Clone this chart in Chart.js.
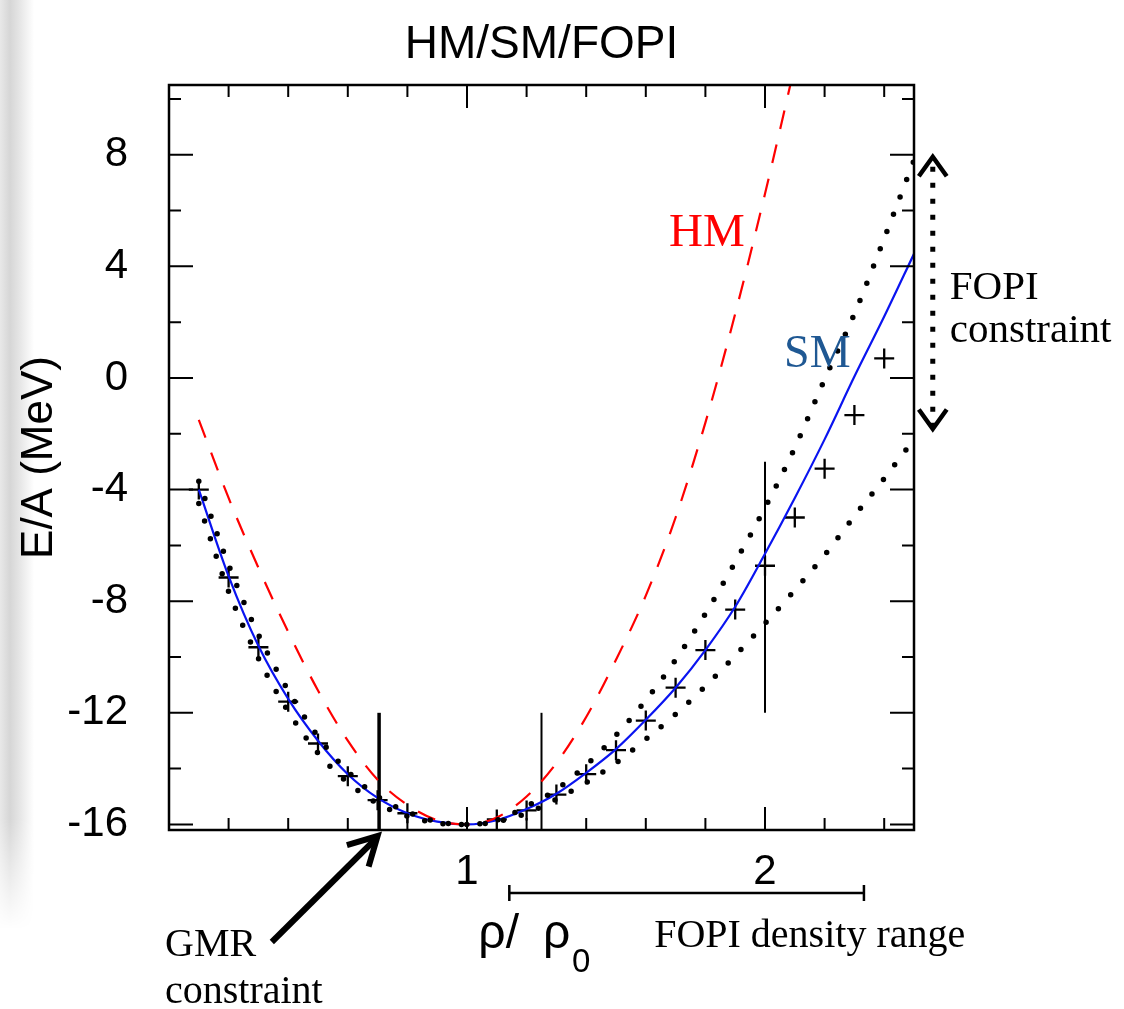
<!DOCTYPE html>
<html>
<head>
<meta charset="utf-8">
<script src="https://cdn.jsdelivr.net/npm/chart.js@4.4.1/dist/chart.umd.min.js"></script>
<style>
  html, body { margin: 0; padding: 0; background: #fff; }
  #wrap { position: relative; width: 1124px; height: 1009px; }
  #edge { position: absolute; left: 0; top: 0; width: 34px; height: 930px;
    background: linear-gradient(to right, #e8e8e8 0px, #d6d6d6 10px, #e6e6e6 20px, #ffffff 34px);
    -webkit-mask-image: linear-gradient(to bottom, #000 88%, transparent 100%);
    mask-image: linear-gradient(to bottom, #000 88%, transparent 100%); }
  canvas { position: absolute; left: 0; top: 0; }
</style>
</head>
<body>
<div id="wrap"><div id="edge"></div><canvas id="chart" width="1124" height="1009"></canvas></div>
<script>
// density grid rho/rho0 for the model curves
const rho = [0.1, 0.2, 0.3, 0.4, 0.5, 0.6, 0.7, 0.8, 0.9, 1.0, 1.1, 1.2, 1.3,
             1.4, 1.5, 1.6, 1.7, 1.8, 1.9, 2.0, 2.1, 2.2, 2.3, 2.4, 2.5];

// E/A in MeV
const smCurve = [-4.0, -7.1, -9.6, -11.5, -13.0, -14.2, -15.05, -15.6, -15.9, -16.0,
                 -15.85, -15.45, -14.9, -14.15, -13.3, -12.25, -11.1, -9.75, -8.2,
                 -6.3, -4.3, -2.2, 0.05, 2.2, 4.45];
const hmCurve = [-1.5, -4.3, -6.8, -9.1, -11.2, -13.0, -14.4, -15.3, -15.85, -16.0,
                 -15.75, -15.0, -13.8, -12.15, -10.1, -7.8, -5.0, -1.6, 2.3, 6.6, 11.2];
const boundStiff = [-4.5, -7.65, -10.05, -11.95, -13.45, -14.5, -15.25, -15.7, -15.95, -16.0,
                    -15.85, -15.35, -14.75, -13.87, -12.8, -11.55, -10.1, -8.45, -6.6,
                    -4.65, -2.5, -0.05, 2.3, 5.0, 7.8];
const boundSoft = [-3.7, -6.7, -9.2, -11.2, -12.85, -14.1, -15.0, -15.55, -15.9, -16.0,
                   -15.9, -15.6, -15.1, -14.5, -13.8, -12.95, -12.05, -11.05, -9.95,
                   -8.8, -7.6, -6.35, -4.95, -3.6, -2.2];

// FOPI points (crosses)
const fopiRho = [0.1, 0.2, 0.3, 0.4, 0.5, 0.6, 0.7, 0.8, 1.1, 1.2, 1.3, 1.4, 1.5,
                 1.6, 1.7, 1.8, 1.9, 2.0, 2.1, 2.2, 2.3, 2.4];
const fopiEA = [-4.0, -7.15, -9.65, -11.6, -13.1, -14.27, -15.13, -15.6, -15.82, -15.5,
                -14.93, -14.2, -13.34, -12.28, -11.1, -9.75, -8.3, -6.73, -5.0, -3.25,
                -1.33, 0.7];

// vertical error bars
const errRho = [0.705, 1.25, 2.0];
const errLow = [-16.2, -16.2, -12.0];
const errHigh = [-12.0, -12.0, -3.0];
const errWidths = [3.5, 2, 2];

// axis ticks
const xMajorTicks = [1, 2];
const xMinorTicks = [0.2, 0.4, 0.6, 0.8, 1.2, 1.4, 1.6, 1.8, 2.2, 2.4];
const yMajorTicks = [-16, -12, -8, -4, 0, 4, 8];
const yMinorTicks = [-14, -10, -6, -2, 2, 6, 10];

const toPts = (xs, ys) => ys.map((y, i) => ({ x: xs[i], y: y }));

const SANS = '"Liberation Sans", Arial, Helvetica, sans-serif';
const SERIF = '"Liberation Serif", "Times New Roman", serif';

const errSets = errRho.map((x, i) => ({
    label: 'err' + i,
    data: [{ x: x, y: errLow[i] }, { x: x, y: errHigh[i] }],
    borderColor: '#000',
    borderWidth: errWidths[i],
    pointRadius: 0
}));

function arrowHead(ctx, tx, ty, ang, len, spread) {
    ctx.beginPath();
    ctx.moveTo(tx + len * Math.cos(ang + spread), ty + len * Math.sin(ang + spread));
    ctx.lineTo(tx, ty);
    ctx.lineTo(tx + len * Math.cos(ang - spread), ty + len * Math.sin(ang - spread));
    ctx.stroke();
}

const framePlugin = {
    id: 'frame',
    afterDraw(chart) {
        const ctx = chart.ctx;
        const a = chart.chartArea;
        const xs = chart.scales.x, ys = chart.scales.y;
        const px = v => xs.getPixelForValue(v);
        const py = v => ys.getPixelForValue(v);
        ctx.save();
        ctx.strokeStyle = '#000';
        ctx.lineCap = 'butt';

        // ticks on all four sides, pointing inward
        ctx.lineWidth = 2;
        ctx.beginPath();
        const xt = (v, len) => {
            const p = px(v);
            ctx.moveTo(p, a.bottom); ctx.lineTo(p, a.bottom - len);
            ctx.moveTo(p, a.top); ctx.lineTo(p, a.top + len);
        };
        const yt = (v, len) => {
            const p = py(v);
            ctx.moveTo(a.left, p); ctx.lineTo(a.left + len, p);
            ctx.moveTo(a.right, p); ctx.lineTo(a.right - len, p);
        };
        xMajorTicks.forEach(v => xt(v, 23));
        xMinorTicks.forEach(v => xt(v, 12));
        yMajorTicks.forEach(v => yt(v, 24));
        yMinorTicks.forEach(v => yt(v, 12));
        ctx.stroke();

        // frame
        ctx.lineWidth = 2.5;
        ctx.strokeRect(a.left, a.top, a.right - a.left, a.bottom - a.top);

        // title
        ctx.fillStyle = '#000';
        ctx.textAlign = 'center';
        ctx.textBaseline = 'alphabetic';
        ctx.font = '46px ' + SANS;
        ctx.fillText('HM/SM/FOPI', (a.left + a.right) / 2, 58);

        // curve labels
        ctx.textAlign = 'left';
        ctx.font = '47px ' + SERIF;
        ctx.fillStyle = '#ff0000';
        ctx.fillText('HM', px(1.678), py(4.73));
        ctx.font = '46px ' + SERIF;
        ctx.fillStyle = '#1f5893';
        ctx.fillText('SM', px(2.064), py(0.39));

        // FOPI constraint double arrow
        ctx.fillStyle = '#000';
        const fx = px(2.563);
        const fTop = py(8.0), fBot = py(-1.9);
        ctx.lineWidth = 5;
        ctx.setLineDash([5, 11]);
        ctx.beginPath();
        ctx.moveTo(fx, fTop + 12); ctx.lineTo(fx, fBot - 6);
        ctx.stroke();
        ctx.setLineDash([]);
        ctx.lineWidth = 4.5;
        ctx.lineJoin = 'miter';
        arrowHead(ctx, fx, fTop + 2, Math.PI / 2, 24, 0.62);
        arrowHead(ctx, fx, fBot - 2, -Math.PI / 2, 24, 0.62);
        ctx.font = '41px ' + SERIF;
        ctx.fillText('FOPI', px(2.62), py(2.83));
        ctx.fillText('constraint', px(2.62), py(1.29));

        // GMR arrow
        const gx = px(0.70), gy = a.bottom + 6;
        const tx = px(0.345), ty = a.bottom + 112;
        ctx.lineWidth = 6;
        ctx.beginPath();
        ctx.moveTo(tx, ty); ctx.lineTo(gx - 3, gy + 4);
        ctx.stroke();
        const ang = Math.atan2(ty - gy, tx - gx);
        arrowHead(ctx, gx, gy, ang, 32, 0.5);
        ctx.font = '40px ' + SERIF;
        ctx.fillText('GMR', 165, a.bottom + 126);
        ctx.fillText('constraint', 165, a.bottom + 173);

        // FOPI density range bar
        const by = a.bottom + 63;
        ctx.lineWidth = 2.5;
        ctx.beginPath();
        ctx.moveTo(px(1.142), by); ctx.lineTo(px(2.332), by);
        ctx.moveTo(px(1.142), by - 8); ctx.lineTo(px(1.142), by + 8);
        ctx.moveTo(px(2.332), by - 8); ctx.lineTo(px(2.332), by + 8);
        ctx.stroke();
        ctx.font = '40px ' + SERIF;
        ctx.fillText('FOPI density range', px(1.628), a.bottom + 117);

        // x axis title rho / rho0
        ctx.font = '48px ' + SANS;
        ctx.fillText('\u03c1/', px(1.038), a.bottom + 118);
        ctx.fillText('\u03c1', px(1.255), a.bottom + 118);
        ctx.font = '33px ' + SANS;
        ctx.fillText('0', px(1.352), a.bottom + 142);
        ctx.restore();
    }
};

const ctx = document.getElementById('chart').getContext('2d');

new Chart(ctx, {
    type: 'line',
    data: {
        datasets: [
            {
                label: 'bound stiff',
                data: toPts(rho, boundStiff),
                borderColor: '#000',
                borderWidth: 5.5,
                borderDash: [0, 18.5],
                borderCapStyle: 'round',
                pointRadius: 0,
                cubicInterpolationMode: 'monotone'
            },
            {
                label: 'bound soft',
                data: toPts(rho, boundSoft),
                borderColor: '#000',
                borderWidth: 5.5,
                borderDash: [0, 18.5],
                borderCapStyle: 'round',
                pointRadius: 0,
                cubicInterpolationMode: 'monotone'
            },
            {
                label: 'HM',
                data: toPts(rho, hmCurve),
                borderColor: '#ff0000',
                borderWidth: 2.2,
                borderDash: [19, 16],
                pointRadius: 0,
                cubicInterpolationMode: 'monotone'
            },
            {
                label: 'SM',
                data: toPts(rho, smCurve),
                borderColor: '#0a14f0',
                borderWidth: 2.2,
                pointRadius: 0,
                cubicInterpolationMode: 'monotone'
            },
            {
                label: 'FOPI',
                data: toPts(fopiRho, fopiEA),
                showLine: false,
                pointStyle: 'cross',
                pointRadius: 10,
                pointBorderColor: '#000',
                pointBorderWidth: 2.3
            },
            ...errSets
        ]
    },
    options: {
        responsive: false,
        animation: false,
        events: [],
        layout: {
            padding: { left: 0, right: 210, top: 85, bottom: 0 }
        },
        plugins: {
            legend: { display: false },
            tooltip: { enabled: false }
        },
        scales: {
            x: {
                type: 'linear',
                min: 0,
                max: 2.5,
                afterBuildTicks: s => { s.ticks = xMajorTicks.map(v => ({ value: v })); },
                afterFit: s => { s.height = 179; },
                grid: { display: false },
                border: { display: false },
                ticks: {
                    color: '#000',
                    padding: 9,
                    maxRotation: 0,
                    font: { family: SANS, size: 42 }
                }
            },
            y: {
                min: -16.2,
                max: 10.5,
                afterBuildTicks: s => { s.ticks = yMajorTicks.map(v => ({ value: v })); },
                afterFit: s => { s.width = 169; },
                grid: { display: false },
                border: { display: false },
                ticks: {
                    color: '#000',
                    padding: 33,
                    font: { family: SANS, size: 42 }
                },
                title: {
                    display: true,
                    text: 'E/A (MeV)',
                    color: '#000',
                    padding: { top: 13, bottom: 0 },
                    font: { family: SANS, size: 44 }
                }
            }
        }
    },
    plugins: [framePlugin]
});
</script>
</body>
</html>
